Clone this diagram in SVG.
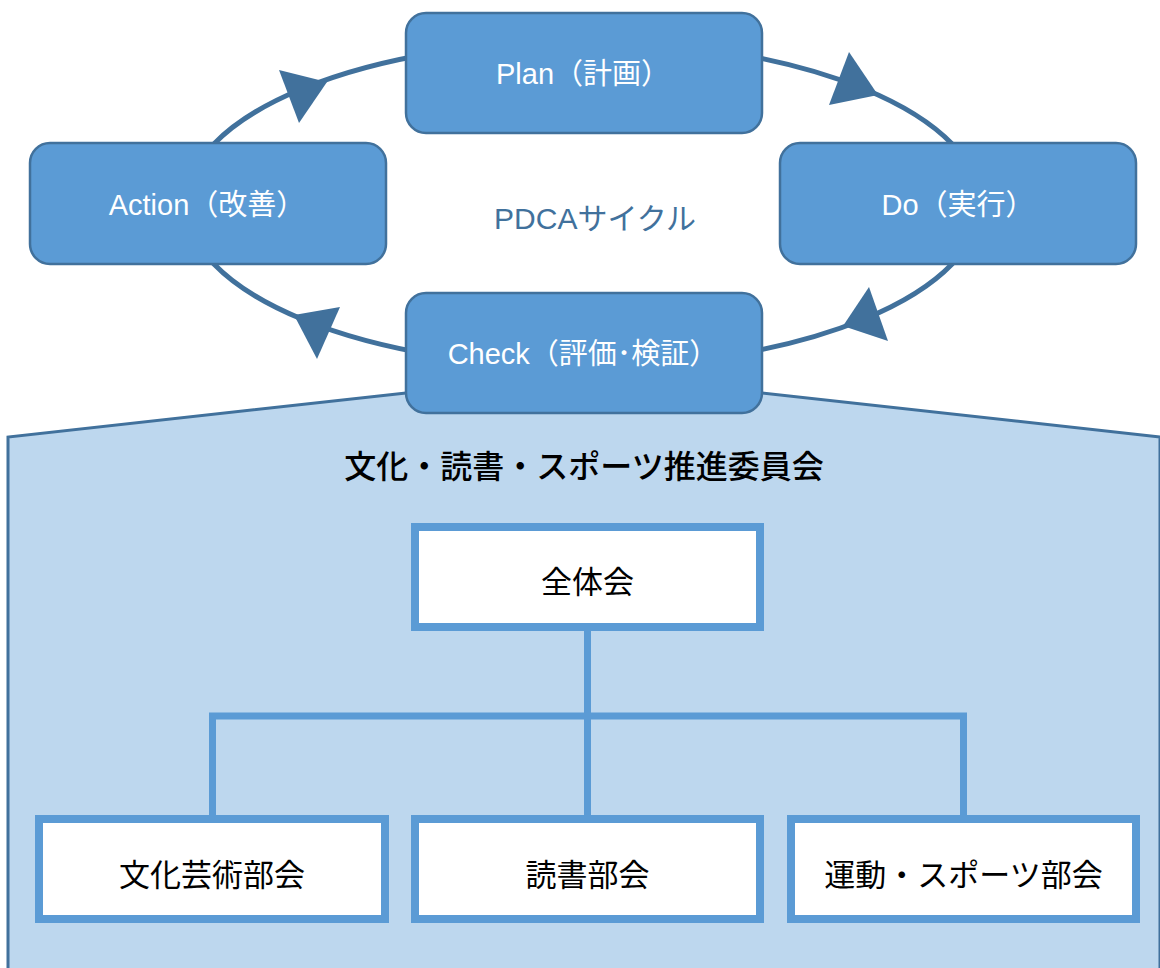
<svg xmlns="http://www.w3.org/2000/svg" width="1160" height="968" viewBox="0 0 1160 968">
<style>
  .pd { fill:#5B9BD5; stroke:#41719C; stroke-width:2.5; }
  .pdt { font-family:"Liberation Sans","Noto Sans CJK JP",sans-serif; font-size:29px; fill:#FFFFFF; text-anchor:middle; dominant-baseline:central; }
  .cyc { fill:none; stroke:#41719C; stroke-width:5; }
  .ah { fill:#41719C; stroke:none; }
  .panel { fill:#BDD7EE; stroke:#41719C; stroke-width:3; }
  .org { fill:#FFFFFF; stroke:#5B9BD5; stroke-width:8; }
  .orgt { font-family:"Noto Sans CJK JP","Liberation Sans",sans-serif; font-size:31px; fill:#000000; text-anchor:middle; dominant-baseline:central; }
  .ln { fill:none; stroke:#5B9BD5; stroke-width:7; stroke-linejoin:miter; }
</style>
<rect x="0" y="0" width="1160" height="968" fill="#FFFFFF"/>
<g id="panel">
  <polygon class="panel" points="8,970 8,437 406,393 762,393 1160,437 1160,970"/>
  <text x="584" y="464" font-family="'Noto Sans CJK JP','Liberation Sans',sans-serif" font-size="32" font-weight="500" fill="#000000" text-anchor="middle" dominant-baseline="central">文化・読書・スポーツ推進委員会</text>
</g>
<g id="connectors">
  <ellipse class="cyc" cx="583" cy="204" rx="397" ry="163"/>
  <polygon class="ah" points="279,70 299,123 327,82"/>
  <polygon class="ah" points="849,52 829,105 878,95"/>
  <polygon class="ah" points="869,287 888,341 843,326"/>
  <polygon class="ah" points="340,307 317,359 294,315"/>
  <path class="ln" d="M212.5,815 V716 H963.5 V815"/>
  <path class="ln" d="M587.5,631 V815"/>
</g>
<text x="595" y="218" font-family="'Liberation Sans','Noto Sans CJK JP',sans-serif" font-size="30" fill="#41719C" text-anchor="middle" dominant-baseline="central">PDCAサイクル</text>
<g id="plan">
  <rect class="pd" x="406" y="13" width="356" height="120" rx="20"/>
  <text class="pdt" x="583" y="74">Plan（計画）</text>
</g>
<g id="action">
  <rect class="pd" x="30" y="143" width="356" height="121" rx="20"/>
  <text class="pdt" x="207" y="205">Action（改善）</text>
</g>
<g id="do">
  <rect class="pd" x="780" y="143" width="356" height="121" rx="20"/>
  <text class="pdt" x="958" y="205">Do（実行）</text>
</g>
<g id="check">
  <rect class="pd" x="406" y="293" width="356" height="120" rx="20"/>
  <text class="pdt" x="583" y="354">Check（評価･検証）</text>
</g>
<g id="zentaikai">
  <rect class="org" x="415" y="527" width="345" height="100"/>
  <text class="orgt" x="587.5" y="579">全体会</text>
</g>
<g id="bunka">
  <rect class="org" x="39" y="819" width="346" height="100"/>
  <text class="orgt" x="212" y="872">文化芸術部会</text>
</g>
<g id="dokusho">
  <rect class="org" x="415" y="819" width="345" height="100"/>
  <text class="orgt" x="587.5" y="872">読書部会</text>
</g>
<g id="undo">
  <rect class="org" x="791" y="819" width="345" height="100"/>
  <text class="orgt" x="963.5" y="872">運動・スポーツ部会</text>
</g>
</svg>
